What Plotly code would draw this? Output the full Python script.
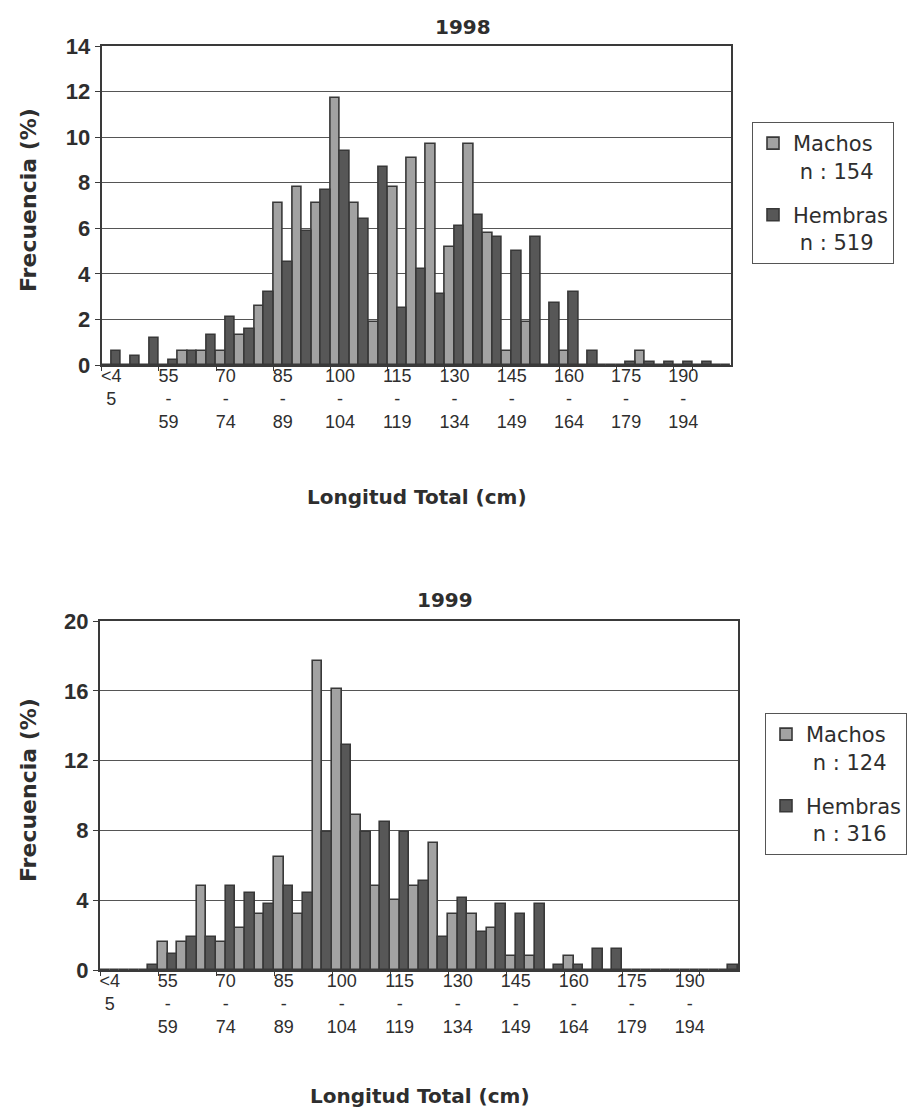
import plotly.graph_objects as go

# ---------------- data ----------------
categories = ["<45", "45-49", "50-54", "55-59", "60-64", "65-69", "70-74", "75-79",
              "80-84", "85-89", "90-94", "95-99", "100-104", "105-109", "110-114",
              "115-119", "120-124", "125-129", "130-134", "135-139", "140-144",
              "145-149", "150-154", "155-159", "160-164", "165-169", "170-174",
              "175-179", "180-184", "185-189", "190-194", "195-199", ">200"]

tick_cats = ["<45", "55-59", "70-74", "85-89", "100-104", "115-119", "130-134",
             "145-149", "160-164", "175-179", "190-194"]
tick_text = ["&lt;4<br>5", "55<br>-<br>59", "70<br>-<br>74", "85<br>-<br>89",
             "100<br>-<br>104", "115<br>-<br>119", "130<br>-<br>134", "145<br>-<br>149",
             "160<br>-<br>164", "175<br>-<br>179", "190<br>-<br>194"]

machos_1998 = [0, 0, 0, 0, 0.6, 0.6, 0.6, 1.3, 2.6, 7.1, 7.8, 7.1, 11.7, 7.1, 1.9, 7.8,
               9.1, 9.7, 5.2, 9.7, 5.8, 0.6, 1.9, 0, 0.6, 0, 0, 0, 0.6, 0, 0, 0, 0]
hembras_1998 = [0.6, 0.4, 1.2, 0.2, 0.6, 1.3, 2.1, 1.6, 3.2, 4.5, 5.9, 7.7, 9.4, 6.4, 8.7, 2.5,
                4.2, 3.1, 6.1, 6.6, 5.6, 5.0, 5.6, 2.7, 3.2, 0.6, 0, 0.15, 0.15, 0.15, 0.15, 0.15, 0]

machos_1999 = [0, 0, 0, 1.6, 1.6, 4.8, 1.6, 2.4, 3.2, 6.5, 3.2, 17.7, 16.1, 8.9, 4.8, 4.0,
               4.8, 7.3, 3.2, 3.2, 2.4, 0.8, 0.8, 0, 0.8, 0, 0, 0, 0, 0, 0, 0, 0]
hembras_1999 = [0, 0, 0.3, 0.9, 1.9, 1.9, 4.8, 4.4, 3.8, 4.8, 4.4, 7.9, 12.9, 7.9, 8.5, 7.9,
                5.1, 1.9, 4.1, 2.2, 3.8, 3.2, 3.8, 0.3, 0.3, 1.2, 1.2, 0, 0, 0, 0, 0, 0.3]

n_1998 = {"Machos": 154, "Hembras": 519}
n_1999 = {"Machos": 124, "Hembras": 316}

# ---------------- styles ----------------
W, H = 907, 1116
LIGHT = "#a2a2a2"
DARK = "#575757"
EDGE = "#383838"
TXT = "#2e2e2e"
FONT = "Liberation Sans, Arial, sans-serif"
WIDE = "DejaVu Sans, Liberation Sans, sans-serif"


def px_x(v):
    return v / W


def px_y(v):
    return 1 - v / H


fig = go.Figure()

for name, vals, col, ax, lg, nmap in [
    ("Machos", machos_1998, LIGHT, ("x", "y"), "legend", n_1998),
    ("Hembras", hembras_1998, DARK, ("x", "y"), "legend", n_1998),
    ("Machos", machos_1999, LIGHT, ("x2", "y2"), "legend2", n_1999),
    ("Hembras", hembras_1999, DARK, ("x2", "y2"), "legend2", n_1999),
]:
    fig.add_trace(go.Bar(
        x=categories, y=vals,
        name=f"{name}<br>&nbsp;n : {nmap[name]}",
        marker=dict(color=col, line=dict(color=EDGE, width=1.6)),
        xaxis=ax[0], yaxis=ax[1], legend=lg, legendgroup=name + lg,
        hoverinfo="x+y",
    ))

xcommon = dict(
    type="category", categoryorder="array", categoryarray=categories,
    tickmode="array", tickvals=tick_cats, ticktext=tick_text,
    tickfont=dict(family=FONT, size=18, color=TXT),
    showline=True, linecolor="#3a3a3a", linewidth=2, mirror=True,
    ticks="outside", ticklen=4, tickcolor="#3a3a3a", tickson="boundaries",
    ticklabelstandoff=-7,
    showgrid=False, zeroline=False, tickangle=0, automargin=False,
)
ycommon = dict(
    tickfont=dict(family=FONT, size=22, color=TXT, weight="bold"),
    showline=True, linecolor="#3a3a3a", linewidth=2, mirror=True,
    ticks="outside", ticklen=5, tickcolor="#3a3a3a",
    showgrid=True, gridcolor="#555555", gridwidth=1, zeroline=False, automargin=False,
)

fig.update_layout(
    width=W, height=H, autosize=False,
    margin=dict(l=0, r=0, t=0, b=0, autoexpand=False),
    paper_bgcolor="white", plot_bgcolor="white",
    barmode="group", bargap=0, bargroupgap=0,
    xaxis=dict(domain=[px_x(101.7), px_x(731)], anchor="y", **xcommon),
    yaxis=dict(domain=[px_y(365), px_y(46)], anchor="x", range=[0, 14], dtick=2, **ycommon),
    xaxis2=dict(domain=[px_x(100), px_x(738)], anchor="y2", **xcommon),
    yaxis2=dict(domain=[px_y(970), px_y(621)], anchor="x2", range=[0, 20], dtick=4, **ycommon),
    legend=dict(x=px_x(752), y=px_y(122), xanchor="left", yanchor="top",
                bordercolor="#555555", borderwidth=1, bgcolor="white",
                font=dict(family=WIDE, size=21, color=TXT), traceorder="grouped",
                tracegroupgap=14, valign="top"),
    legend2=dict(x=px_x(765), y=px_y(713), xanchor="left", yanchor="top",
                 bordercolor="#555555", borderwidth=1, bgcolor="white",
                 font=dict(family=WIDE, size=21, color=TXT), traceorder="grouped",
                 tracegroupgap=14, valign="top"),
    showlegend=True,
)

title_font = dict(family=WIDE, size=20, color=TXT, weight="bold")
annots = [
    dict(text="1998", x=px_x(463), y=px_y(27)),
    dict(text="1999", x=px_x(445), y=px_y(600)),
    dict(text="Longitud Total (cm)", x=px_x(417), y=px_y(497)),
    dict(text="Longitud Total (cm)", x=px_x(420), y=px_y(1096)),
    dict(text="Frecuencia (%)", x=px_x(28), y=px_y(200), textangle=-90,
         font=dict(family=WIDE, size=22, color=TXT, weight="bold")),
    dict(text="Frecuencia (%)", x=px_x(28), y=px_y(790), textangle=-90,
         font=dict(family=WIDE, size=22, color=TXT, weight="bold")),
]
for a in annots:
    a.setdefault("font", title_font)
    fig.add_annotation(xref="paper", yref="paper", showarrow=False,
                       xanchor="center", yanchor="middle", **a)

fig.write_html("out.html", config={"displayModeBar": False},
               post_script="document.body.style.margin='0';")
